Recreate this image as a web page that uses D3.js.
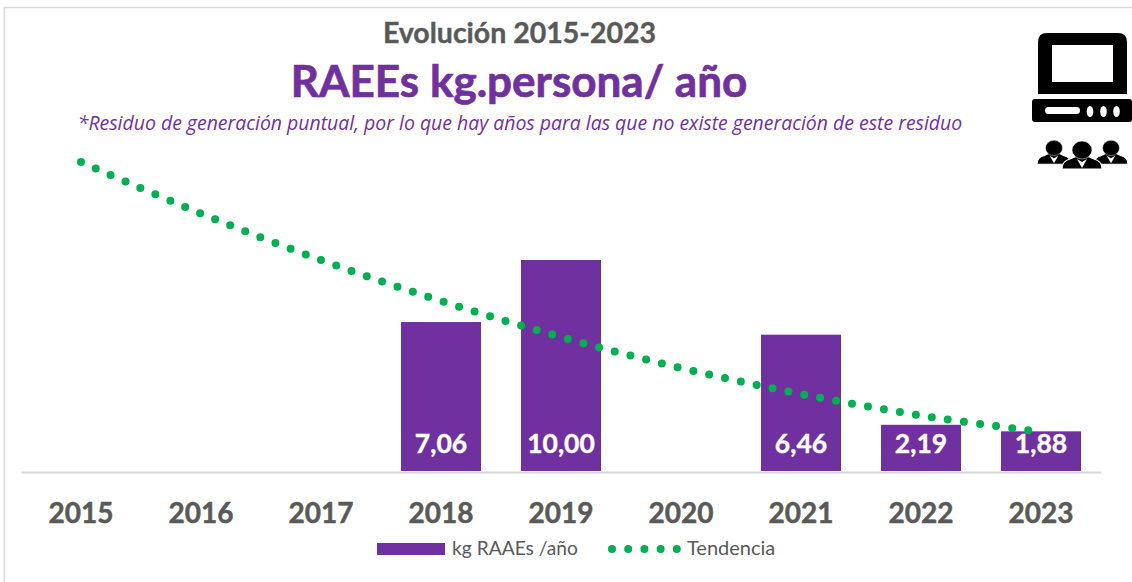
<!DOCTYPE html>
<html>
<head>
<meta charset="utf-8">
<script src="https://cdn.jsdelivr.net/npm/d3@7"></script>
<style>
    html, body { margin: 0; padding: 0; background: #fff; overflow: hidden; }
    text { font-family: Lato, sans-serif; }
</style>
</head>
<body>
<svg id="chart" width="1132" height="582"></svg>
<script>
var years = ["2015", "2016", "2017", "2018", "2019", "2020", "2021", "2022", "2023"];
var barYears = ["2018", "2019", "2021", "2022", "2023"];
var barValues = [7.06, 10.00, 6.46, 2.19, 1.88];
var trendValues = [14.64, 12.20, 10.00, 8.06, 6.35, 4.88, 3.65, 2.63, 1.85];

var purple = "#7030A0", green = "#00B050", grey = "#595959", lineGrey = "#D9D9D9";

var svg = d3.select("#chart");

// Frame: only the top and left edges show in the picture
svg.append("path")
    .attr("d", "M4.5,582V7.5H1132")
    .attr("fill", "none")
    .attr("stroke", lineGrey)
    .attr("stroke-width", 1.6);

var x = d3.scaleBand().domain(years).range([21, 1101]).paddingInner(1 / 3).paddingOuter(1 / 6);
var y = d3.scaleLinear().domain([0, 10]).range([471, 260]);

// Bars
svg.selectAll(".bar")
    .data(barYears)
    .enter().append("rect")
    .attr("class", "bar")
    .attr("x", function (d) { return x(d); })
    .attr("y", function (d, i) { return y(barValues[i]); })
    .attr("width", x.bandwidth())
    .attr("height", function (d, i) { return y(0) - y(barValues[i]); })
    .attr("fill", purple);

// Category axis
var axis = svg.append("g")
    .attr("transform", "translate(0," + (y(0) + 1) + ")")
    .call(d3.axisBottom(x).tickSize(0).tickPadding(31));
axis.select(".domain").attr("stroke", lineGrey).attr("stroke-width", 2);
axis.selectAll("text")
    .attr("fill", grey)
    .attr("stroke", grey)
    .attr("stroke-width", 0.5)
    .style("font-family", "Lato, sans-serif")
    .style("font-size", "28px")
    .style("font-weight", 700);

// Trend line, dotted with round caps
var trendLine = d3.line()
    .x(function (d, i) { return x(years[i]) + x.bandwidth() / 2; })
    .y(function (d) { return y(d); })
    .curve(d3.curveCatmullRom);

svg.append("path")
    .attr("d", trendLine(trendValues))
    .attr("fill", "none")
    .attr("stroke", green)
    .attr("stroke-width", 8)
    .attr("stroke-linecap", "round")
    .attr("stroke-dasharray", "0 16.2");

// Value labels
svg.selectAll(".value")
    .data(barYears)
    .enter().append("text")
    .attr("class", "value")
    .attr("x", function (d) { return x(d) + x.bandwidth() / 2; })
    .attr("y", 453)
    .attr("text-anchor", "middle")
    .attr("fill", "#fff")
    .attr("stroke", "#fff")
    .attr("stroke-width", 0.4)
    .style("font-size", "26.5px")
    .style("font-weight", 700)
    .text(function (d, i) { return d3.format(".2f")(barValues[i]).replace(".", ","); });

// Titles
svg.append("text")
    .attr("x", 519.5).attr("y", 43)
    .attr("text-anchor", "middle")
    .attr("fill", grey)
    .attr("stroke", grey)
    .attr("stroke-width", 0.4)
    .style("font-size", "28.5px")
    .style("font-weight", 700)
    .text("Evolución 2015-2023");

svg.append("text")
    .attr("x", 519).attr("y", 97)
    .attr("text-anchor", "middle")
    .attr("fill", purple)
    .attr("stroke", purple)
    .attr("stroke-width", 0.7)
    .style("font-size", "44px")
    .style("font-weight", 700)
    .text("RAEEs kg.persona/ año");

svg.append("text")
    .attr("x", 520).attr("y", 130)
    .attr("text-anchor", "middle")
    .attr("fill", purple)
    .style("font-family", "'Open Sans', sans-serif")
    .style("font-size", "19.45px")
    .style("font-style", "italic")
    .text("*Residuo de generación puntual, por lo que hay años para las que no existe generación de este residuo");

// Legend
svg.append("rect")
    .attr("x", 377).attr("y", 543)
    .attr("width", 68).attr("height", 12)
    .attr("fill", purple);

svg.append("text")
    .attr("x", 452).attr("y", 555)
    .attr("fill", grey)
    .style("font-size", "19.2px")
    .text("kg RAAEs /año");

svg.append("path")
    .attr("d", "M612,549H680")
    .attr("fill", "none")
    .attr("stroke", green)
    .attr("stroke-width", 8)
    .attr("stroke-linecap", "round")
    .attr("stroke-dasharray", "0 16.2");

svg.append("text")
    .attr("x", 687).attr("y", 555)
    .attr("fill", grey)
    .style("font-size", "20px")
    .text("Tendencia");

// Computer icon
var icon = svg.append("g").attr("fill", "#000");
icon.append("path")
    .attr("fill-rule", "evenodd")
    .attr("d", "M1038,94V42Q1038,33 1047,33H1118Q1127,33 1127,42V94Z M1052,45V82H1113V45Z");
icon.append("rect")
    .attr("x", 1032).attr("y", 99)
    .attr("width", 100).attr("height", 23)
    .attr("rx", 3);
icon.append("rect")
    .attr("x", 1045).attr("y", 107)
    .attr("width", 35).attr("height", 7)
    .attr("rx", 3.5)
    .attr("fill", "#fff");
[1090, 1103.5, 1116.5].forEach(function (cx) {
    icon.append("ellipse")
        .attr("cx", cx).attr("cy", 111.5)
        .attr("rx", 3.3).attr("ry", 5.5)
        .attr("fill", "#fff");
});

// People below the computer, the middle one in front
[[1054, 148, 0.85], [1111, 148, 0.85], [1082, 150, 1]].forEach(function (p) {
    var g = icon.append("g")
        .attr("transform", "translate(" + p[0] + "," + p[1] + ") scale(" + p[2] + ")");
    g.append("path")
        .attr("d", "M-20,19Q-20,11 -12,9L-5,6H5L12,9Q20,11 20,19Z")
        .attr("stroke", "#fff")
        .attr("stroke-width", 1.2);
    g.append("ellipse")
        .attr("rx", 10).attr("ry", 9)
        .attr("stroke", "#fff")
        .attr("stroke-width", 0.5);
    g.append("path")
        .attr("d", "M-5,9L0,12L5,9L0,18Z")
        .attr("fill", "#fff");
});
</script>
</body>
</html>
